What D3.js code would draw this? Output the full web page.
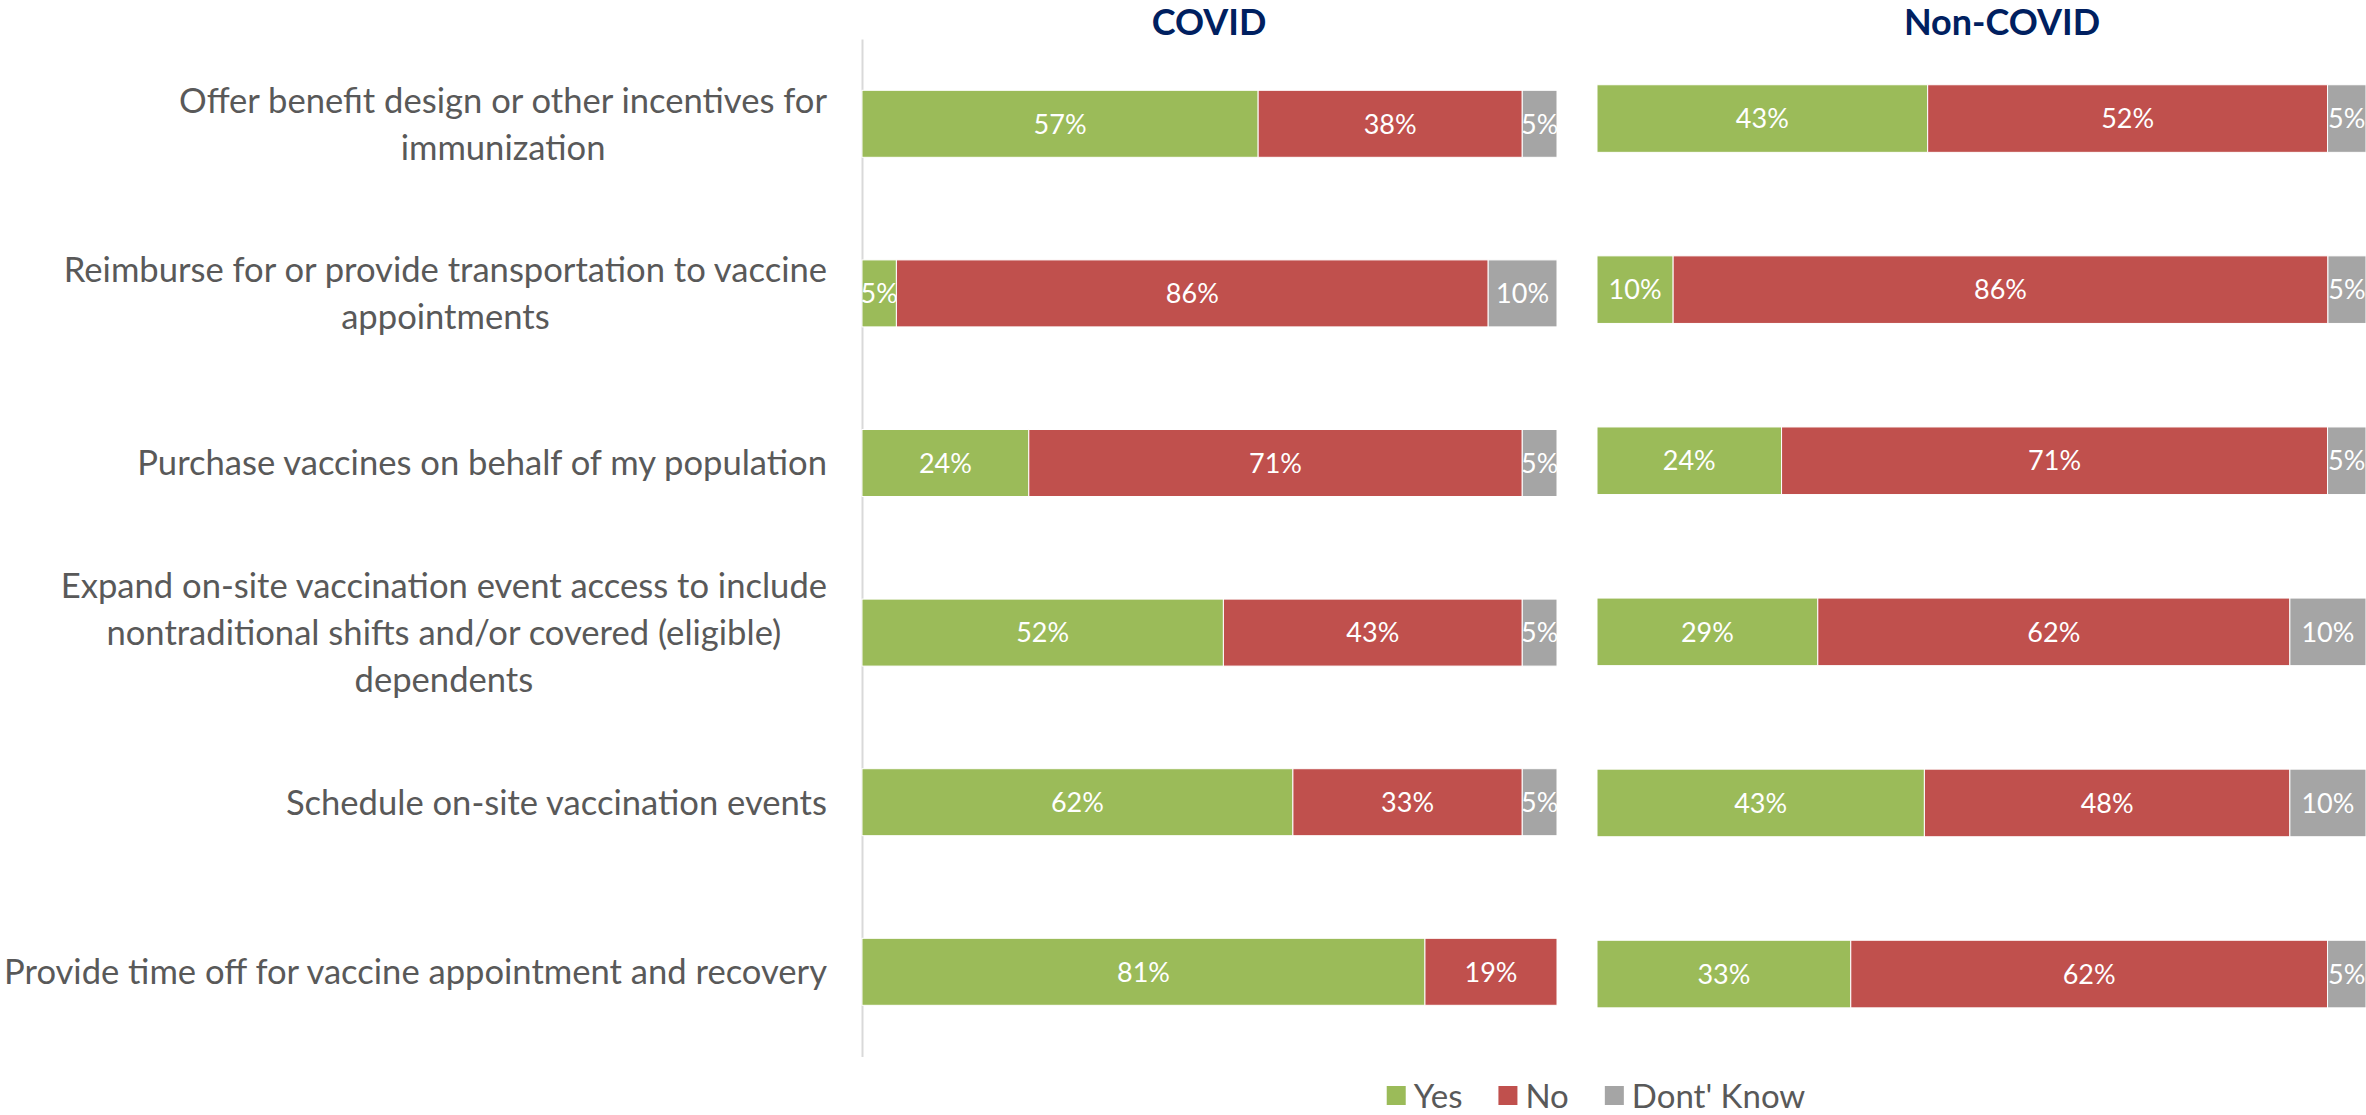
<!DOCTYPE html>
<html>
<head>
<meta charset="utf-8">
<script src="https://cdn.jsdelivr.net/npm/d3@7"></script>
<style>
  body { margin: 0; background: #fff; }
  svg { display: block; }
</style>
</head>
<body>
<svg id="chart" width="2366" height="1115"></svg>
<script>
// Employer vaccination support measures, share of respondents (%)
const categories = [
  "Offer benefit design or other incentives for immunization",
  "Reimburse for or provide transportation to vaccine appointments",
  "Purchase vaccines on behalf of my population",
  "Expand on-site vaccination event access to include nontraditional shifts and/or covered (eligible) dependents",
  "Schedule on-site vaccination events",
  "Provide time off for vaccine appointment and recovery"
];
const seriesKeys = ["Yes", "No", "Dont' Know"];
const seriesColors = ["#9BBB59", "#C0504D", "#A5A5A5"];
const panelTitles = ["COVID", "Non-COVID"];

const covidYes       = [57, 5, 24, 52, 62, 81];
const covidNo        = [38, 86, 71, 43, 33, 19];
const covidDontKnow  = [5, 10, 5, 5, 5, 0];

const nonCovidYes      = [43, 10, 24, 29, 43, 33];
const nonCovidNo       = [52, 86, 71, 62, 48, 62];
const nonCovidDontKnow = [5, 5, 5, 10, 10, 5];

const svg = d3.select("#chart");
const FONT = "Lato, 'Open Sans', sans-serif";
const color = d3.scaleOrdinal(seriesKeys, seriesColors);

const panels = [
  { title: panelTitles[0], series: [covidYes, covidNo, covidDontKnow],
    x: [862, 1557], y: [39, 1056.6], titleX: 1209, axis: true },
  { title: panelTitles[1], series: [nonCovidYes, nonCovidNo, nonCovidDontKnow],
    x: [1597, 2366], y: [33, 1059.6], titleX: 2002, axis: false }
];

let clipId = 0;

panels.forEach((p) => {
  const rows = categories.map((c, i) => {
    const r = { category: c };
    seriesKeys.forEach((k, si) => r[k] = p.series[si][i]);
    return r;
  });
  const stacked = d3.stack().keys(seriesKeys).offset(d3.stackOffsetExpand)(rows);

  const x = d3.scaleLinear([0, 1], p.x);
  const y = d3.scaleBand(categories, p.y).paddingInner(0.605).paddingOuter(0.3025);

  const g = svg.append("g").attr("class", "panel");

  // panel heading
  g.append("text")
    .attr("x", p.titleX)
    .attr("y", 35)
    .attr("text-anchor", "middle")
    .attr("font-family", FONT)
    .attr("font-weight", 700)
    .attr("font-size", 36)
    .attr("fill", "#002060")
    .text(p.title);

  if (p.axis) {
    const ax = g.append("g")
      .attr("transform", `translate(${p.x[0]},0)`)
      .call(d3.axisLeft(y).tickSize(0).tickPadding(35));
    ax.select(".domain").attr("stroke", "#d9d9d9").attr("stroke-width", 2);
    ax.selectAll(".tick text")
      .attr("font-family", FONT)
      .attr("font-size", 34.6)
      .attr("fill", "#595959")
      .each(function (d) { wrapLabel(d3.select(this), d, 845, 47, -35); });
  }

  const layers = g.selectAll("g.layer").data(stacked).join("g")
    .attr("class", "layer")
    .attr("fill", d => color(d.key));

  layers.each(function (layer) {
    const lg = d3.select(this);
    layer.forEach((d, i) => {
      const v = p.series[seriesKeys.indexOf(layer.key)][i];
      if (!v) return;
      const x0 = x(d[0]), x1 = x(d[1]);
      const yy = y(d.data.category), h = y.bandwidth();
      lg.append("rect")
        .attr("x", x0).attr("y", yy)
        .attr("width", x1 - x0).attr("height", h)
        .attr("stroke", "#ffffff").attr("stroke-width", 1);
      const id = "seg" + (clipId++);
      svg.append("clipPath").attr("id", id)
        .append("rect").attr("x", x0).attr("y", yy).attr("width", x1 - x0).attr("height", h);
      g.append("text")
        .attr("clip-path", `url(#${id})`)
        .attr("x", (x0 + x1) / 2)
        .attr("y", yy + h / 2)
        .attr("dy", "0.36em")
        .attr("text-anchor", "middle")
        .attr("font-family", FONT)
        .attr("font-size", 27)
        .attr("fill", "#ffffff")
        .text(v + "%");
    });
  });
});

// word-wrap a category label; lines are centred on each other, block right-aligned at xRight
function wrapLabel(text, str, maxW, lineH, xRight) {
  const words = str.split(/\s+/);
  const lines = [];
  let line = [];
  text.text(null);
  const probe = text.append("tspan");
  words.forEach(w => {
    line.push(w);
    probe.text(line.join(" "));
    if (probe.node().getComputedTextLength() > maxW && line.length > 1) {
      line.pop();
      lines.push(line.join(" "));
      line = [w];
    }
  });
  lines.push(line.join(" "));
  let widest = 0;
  lines.forEach(l => { probe.text(l); widest = Math.max(widest, probe.node().getComputedTextLength()); });
  probe.remove();
  const cx = xRight - widest / 2;
  text.attr("text-anchor", "middle").attr("x", cx).attr("dy", null);
  const off = -(lines.length - 1) / 2 * lineH;
  lines.forEach((l, i) => {
    text.append("tspan")
      .attr("x", cx)
      .attr("y", off + i * lineH)
      .attr("dy", "0.36em")
      .text(l);
  });
}

// legend along the bottom
const legend = svg.append("g").attr("class", "legend");
const items = legend.selectAll("g").data(seriesKeys).join("g");
items.append("rect")
  .attr("width", 19).attr("height", 19)
  .attr("y", -10)
  .attr("fill", d => color(d));
items.append("text")
  .attr("x", 27)
  .attr("dy", "0.36em")
  .attr("font-family", FONT)
  .attr("font-size", 33)
  .attr("fill", "#595959")
  .text(d => d);
let cursor = 0;
items.each(function () {
  const it = d3.select(this);
  it.attr("transform", `translate(${cursor},0)`);
  cursor += 27 + it.select("text").node().getComputedTextLength() + 36;
});
const legendW = cursor - 36;
legend.attr("transform", `translate(${1596 - legendW / 2},1096)`);
</script>
</body>
</html>
